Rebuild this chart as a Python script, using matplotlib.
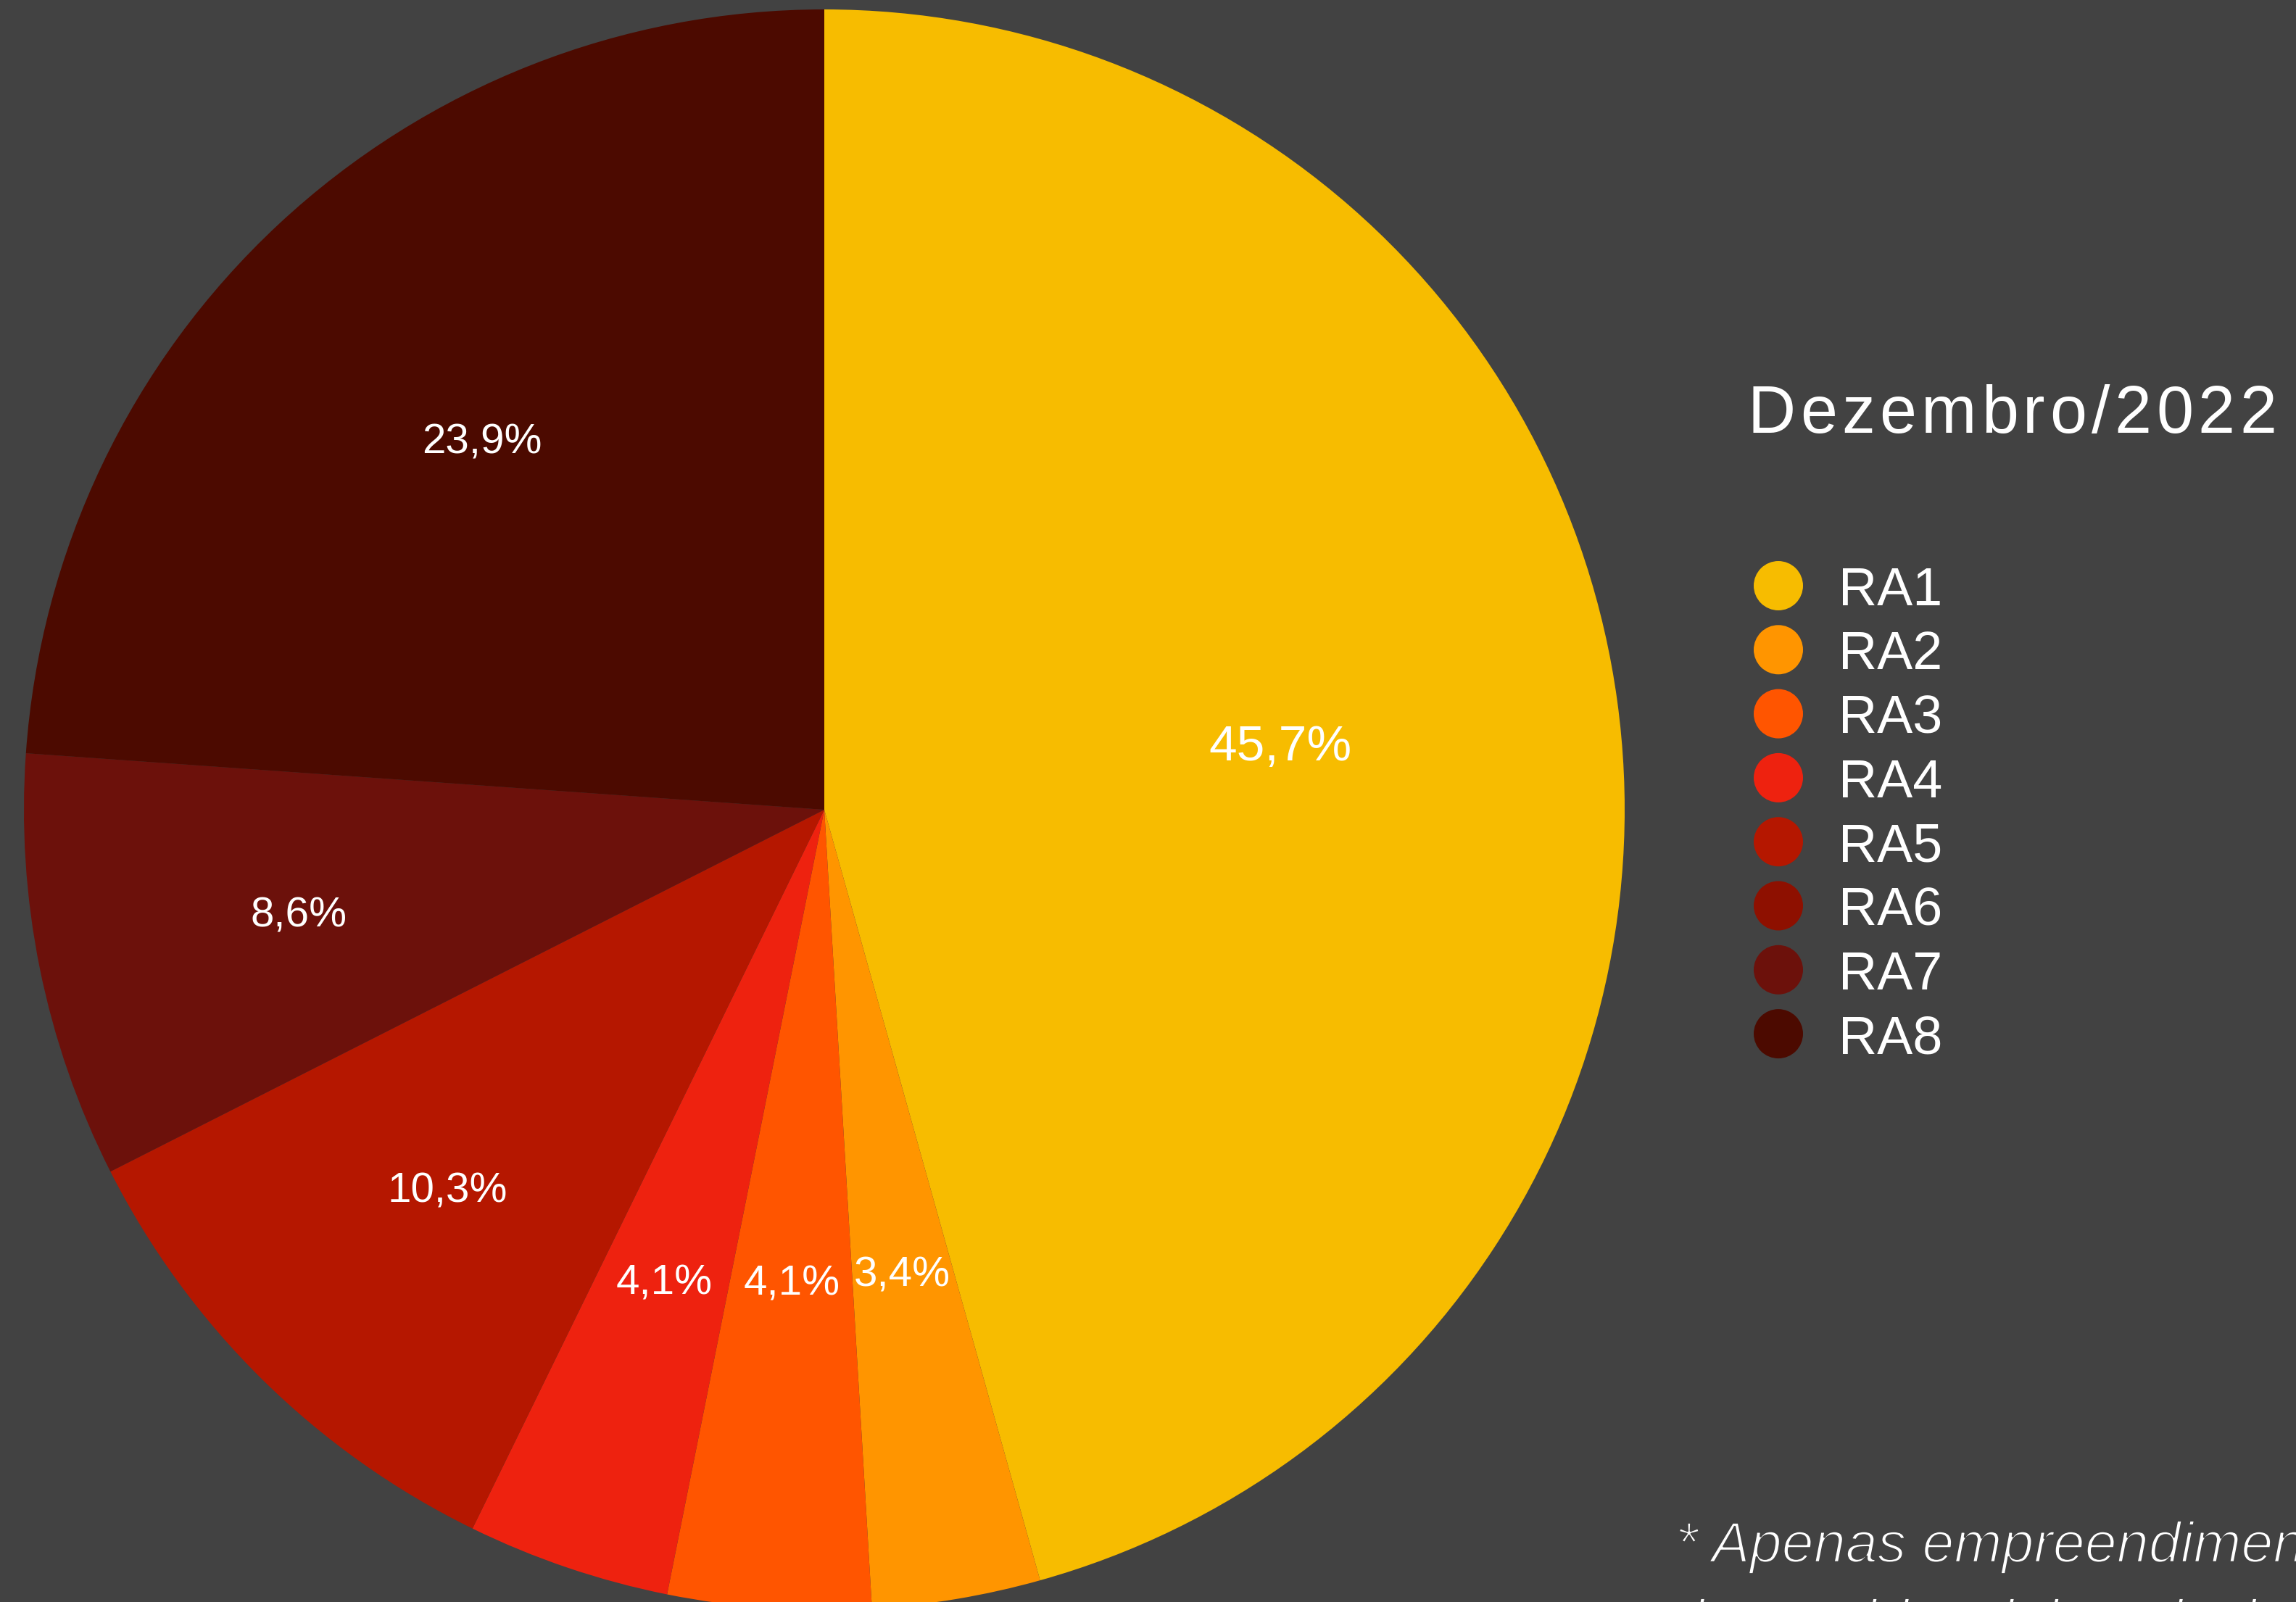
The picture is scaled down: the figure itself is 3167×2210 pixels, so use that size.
import matplotlib
matplotlib.use("Agg")
import matplotlib.pyplot as plt
from matplotlib.patches import Ellipse
from matplotlib import font_manager, patheffects
from matplotlib.ft2font import FT2Font
import numpy as np

# ---- data ----
categories = ["RA1", "RA2", "RA3", "RA4", "RA5", "RA6", "RA7", "RA8"]
values = [45.7, 3.4, 4.1, 4.1, 10.3, 0.0, 8.6, 23.9]
colors = ["#F7BC00", "#FF9500", "#FF5500", "#EE220F", "#B51700", "#8E1000", "#6C110B", "#4C0A00"]
title = "Dezembro/2022"
footnote = ["* Apenas empreendimentos", "tipo residencial vertical"]

# ---- style ----
BG = "#424242"
FONT = "Liberation Sans"
label_r = [0.575, 0.59, 0.594, 0.625, 0.67, 0.6, 0.67, 0.627]
label_size = [50, 42, 42, 42, 42, 42, 42, 42]

W, H = 3167, 2210
fig = plt.figure(figsize=(W / 100, H / 100), dpi=100, facecolor=BG)

cx, cy, R = 1137, 1117, 1104
ax = fig.add_axes([(cx - R) / W, (H - cy - R) / H, 2 * R / W, 2 * R / H])
wedges, _ = ax.pie(values, colors=colors, startangle=90, counterclock=False,
                   radius=1, wedgeprops=dict(linewidth=0))
ax.set_xlim(-1, 1)
ax.set_ylim(-1, 1)
ax.set_aspect("equal")
ax.axis("off")

for w, v, r, fs in zip(wedges, values, label_r, label_size):
    if v <= 0:
        continue
    th = np.deg2rad((w.theta1 + w.theta2) / 2)
    txt = f"{v:.1f}".replace(".", ",") + "%"
    ax.text(r * np.cos(th), r * np.sin(th), txt, ha="center", va="center",
            color="white", fontsize=fs, family=FONT)


def spaced_text(x_px, base_px, s, size, gap, **kw):
    fp = font_manager.FontProperties(family=FONT)
    font = FT2Font(font_manager.findfont(fp))
    font.set_size(size, 100)
    x = x_px
    for ch in s:
        fig.text(x / W, 1 - base_px / H, ch, fontsize=size, family=FONT,
                 ha="left", va="baseline", color="white", **kw)
        g = font.load_char(ord(ch))
        x += g.linearHoriAdvance / 65536 + gap


# title with letter spacing
spaced_text(2410, 597, title, 66, 6.5)

# legend
lx, ly0, dy, d = 2453, 808, 88.3, 68
for i, (c, name) in enumerate(zip(colors, categories)):
    y = ly0 + i * dy
    fig.add_artist(Ellipse((lx / W, 1 - y / H), d / W, d / H,
                           transform=fig.transFigure, facecolor=c, edgecolor="none"))
    fig.text(2536 / W, 1 - (y + 27) / H, name, fontsize=53, family=FONT,
             color="white", ha="left", va="baseline")

# footnote (thin italic: erode glyphs slightly with a background-coloured stroke)
thin = [patheffects.Normal(), patheffects.Stroke(linewidth=1.9, foreground=BG)]
fig.text(2311 / W, 1 - 2155 / H, footnote[0], fontsize=57, family=FONT,
         style="italic", color="white", ha="left", va="baseline", path_effects=thin)
fig.text(2311 / W, 1 - 2262 / H, footnote[1], fontsize=57, family=FONT,
         style="italic", color="white", ha="left", va="baseline", path_effects=thin)

fig.savefig("out.png", dpi=100, facecolor=BG)
